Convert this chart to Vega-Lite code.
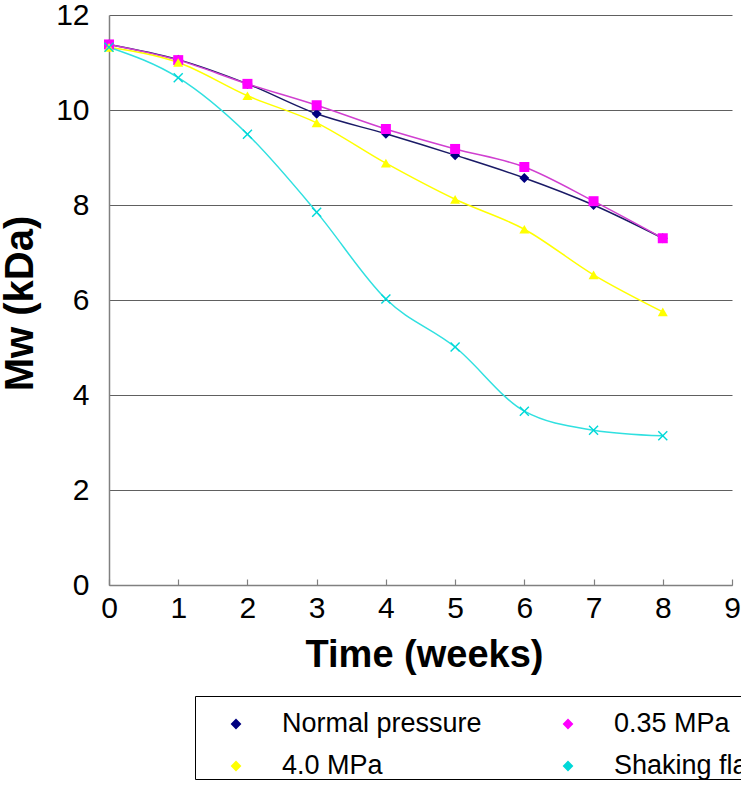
{
  "$schema": "https://vega.github.io/schema/vega-lite/v6.json",
  "autosize": {"type": "none"},
  "width": 623,
  "height": 570,
  "padding": {"left": 109, "top": 15, "right": 9, "bottom": 219},
  "background": "white",
  "config": {
    "view": {"stroke": null},
    "font": "Liberation Sans"
  },
  "data": {
    "values": [
      {"week": 0, "series": "Normal pressure", "mw": 11.38},
      {"week": 1, "series": "Normal pressure", "mw": 11.06},
      {"week": 2, "series": "Normal pressure", "mw": 10.55},
      {"week": 3, "series": "Normal pressure", "mw": 9.92},
      {"week": 4, "series": "Normal pressure", "mw": 9.5},
      {"week": 5, "series": "Normal pressure", "mw": 9.05},
      {"week": 6, "series": "Normal pressure", "mw": 8.57},
      {"week": 7, "series": "Normal pressure", "mw": 8.0},
      {"week": 8, "series": "Normal pressure", "mw": 7.3},
      {"week": 0, "series": "0.35 MPa", "mw": 11.38},
      {"week": 1, "series": "0.35 MPa", "mw": 11.05},
      {"week": 2, "series": "0.35 MPa", "mw": 10.55},
      {"week": 3, "series": "0.35 MPa", "mw": 10.1},
      {"week": 4, "series": "0.35 MPa", "mw": 9.6},
      {"week": 5, "series": "0.35 MPa", "mw": 9.18},
      {"week": 6, "series": "0.35 MPa", "mw": 8.8},
      {"week": 7, "series": "0.35 MPa", "mw": 8.08},
      {"week": 8, "series": "0.35 MPa", "mw": 7.3},
      {"week": 0, "series": "4.0 MPa", "mw": 11.32},
      {"week": 1, "series": "4.0 MPa", "mw": 11.0},
      {"week": 2, "series": "4.0 MPa", "mw": 10.3},
      {"week": 3, "series": "4.0 MPa", "mw": 9.73},
      {"week": 4, "series": "4.0 MPa", "mw": 8.88},
      {"week": 5, "series": "4.0 MPa", "mw": 8.12},
      {"week": 6, "series": "4.0 MPa", "mw": 7.49},
      {"week": 7, "series": "4.0 MPa", "mw": 6.53},
      {"week": 8, "series": "4.0 MPa", "mw": 5.75},
      {"week": 0, "series": "Shaking flask", "mw": 11.32},
      {"week": 1, "series": "Shaking flask", "mw": 10.68},
      {"week": 2, "series": "Shaking flask", "mw": 9.49},
      {"week": 3, "series": "Shaking flask", "mw": 7.85},
      {"week": 4, "series": "Shaking flask", "mw": 6.02},
      {"week": 5, "series": "Shaking flask", "mw": 5.01},
      {"week": 6, "series": "Shaking flask", "mw": 3.66},
      {"week": 7, "series": "Shaking flask", "mw": 3.26},
      {"week": 8, "series": "Shaking flask", "mw": 3.14}
    ]
  },
  "encoding": {
    "x": {
      "field": "week", "type": "quantitative",
      "scale": {"domain": [0, 9], "nice": false, "zero": false},
      "axis": {
        "title": "Time (weeks)",
        "values": [0, 1, 2, 3, 4, 5, 6, 7, 8, 9],
        "grid": false,
        "domainColor": "#808080", "domainWidth": 1.5,
        "tickColor": "#808080", "tickSize": -6, "tickWidth": 1.2,
        "labelFontSize": 30, "labelColor": "black", "labelPadding": 14,
        "labelFont": "Liberation Sans", "labelFlush": false,
        "titleFontSize": 38, "titleFontWeight": "bold", "titleColor": "black",
        "titleFont": "Liberation Sans", "titleBaseline": "alphabetic",
        "titleX": 315, "titleY": 81
      }
    },
    "y": {
      "field": "mw", "type": "quantitative",
      "scale": {"domain": [0, 12], "nice": false},
      "axis": {
        "title": "Mw (kDa)",
        "values": [0, 2, 4, 6, 8, 10, 12],
        "grid": true, "gridColor": "#606060", "gridWidth": 1.2,
        "domainColor": "#808080", "domainWidth": 1.5,
        "ticks": false,
        "labelFontSize": 30, "labelColor": "black", "labelPadding": 20,
        "labelFont": "Liberation Sans",
        "titleFontSize": 40, "titleFontWeight": "bold", "titleColor": "black",
        "titleFont": "Liberation Sans", "titleBaseline": "alphabetic",
        "titleAngle": -90, "titleAlign": "center",
        "titleX": -77, "titleY": 288
      }
    }
  },
  "layer": [
    {
      "mark": {"type": "line", "interpolate": "monotone", "strokeWidth": 1.5},
      "encoding": {
        "stroke": {
          "field": "series", "type": "nominal",
          "scale": {"range": ["#d040d0", "#ffff00", "#1a1a66", "#30e0e0"]},
          "legend": null
        }
      }
    },
    {
      "mark": {"type": "point", "filled": true, "opacity": 1},
      "encoding": {
        "color": {
          "field": "series", "type": "nominal",
          "scale": {"domain": ["Normal pressure", "0.35 MPa", "4.0 MPa", "Shaking flask"],
                    "range": ["#000080", "#ff00ff", "#ffff00", "#00d8d8"]},
          "legend": {
            "title": null,
            "orient": "none",
            "legendX": 86,
            "legendY": 681,
            "direction": "horizontal",
            "columns": 2,
            "gridAlign": "none",
            "strokeColor": "black",
            "padding": 0,
            "symbolType": "M-1,0H1M0,-0.2L0.2,0L0,0.2L-0.2,0Z",
            "symbolSize": 2916,
            "symbolStrokeWidth": 1.5,
            "labelFontSize": 27,
            "labelFont": "Liberation Sans",
            "labelColor": "black",
            "labelOffset": 18,
            "columnPadding": 45,
            "rowPadding": 1,
            "symbolOffset": 13,
            "labelLimit": 400,
            "encode": {
              "symbols": {
                "update": {
                  "shape": {"signal": "datum.value === 'Normal pressure' ? 'M-1,0H1M0,-0.2L0.2,0L0,0.2L-0.2,0Z' : datum.value === '0.35 MPa' ? 'M-1,0H1M-0.17,-0.17H0.17V0.17H-0.17Z' : datum.value === '4.0 MPa' ? 'M-1,0H1M0,-0.2L0.2,0.16H-0.2Z' : 'M-1,0H1M-0.15,-0.15L0.15,0.15M-0.15,0.15L0.15,-0.15'"},
                  "fill": {"scale": "color", "field": "value"},
                  "stroke": {"scale": "color", "field": "value"}
                }
              }
            }
          }
        },
        "shape": {
          "field": "series", "type": "nominal",
          "scale": {"range": ["square", "triangle-up", "diamond", "M-1,-0.8L-0.8,-1L0,-0.2L0.8,-1L1,-0.8L0.2,0L1,0.8L0.8,1L0,0.2L-0.8,1L-1,0.8L-0.2,0Z"]},
          "legend": null
        },
        "size": {"value": 100}
      }
    }
  ]
}
